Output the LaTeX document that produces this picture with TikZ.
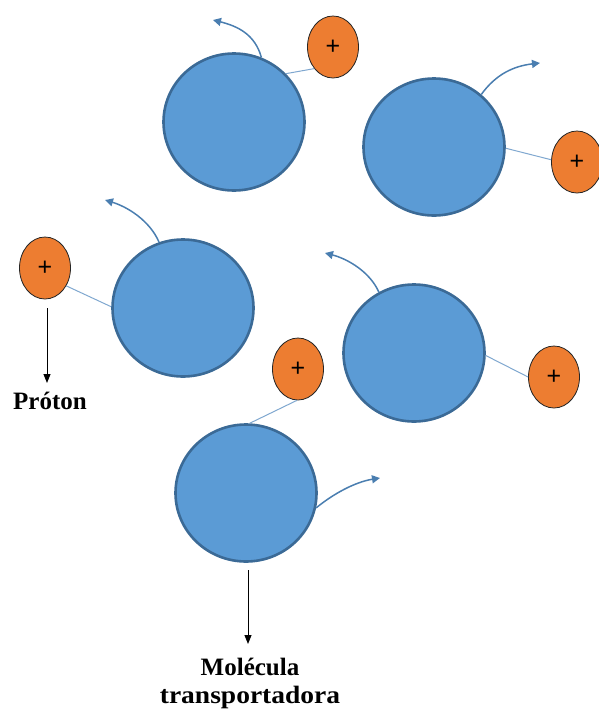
\documentclass[tikz,border=0pt]{standalone}
\usepackage{fontspec}
\setmainfont{Liberation Serif}
\newfontfamily\plusfont{Liberation Sans}
\usetikzlibrary{shapes.geometric,arrows.meta}
\definecolor{cellfill}{HTML}{5B9BD5}
\definecolor{celledge}{HTML}{3B6A96}
\definecolor{protfill}{HTML}{ED7D31}
\definecolor{linkcol}{HTML}{7FA7CF}
\definecolor{curvecol}{HTML}{4A7EB0}
\tikzset{
  carrier/.style={ellipse, draw=celledge, fill=cellfill, line width=2.6pt,
    minimum width=141pt, minimum height=137pt, inner sep=0pt},
  proton/.style={ellipse, draw=black!85, fill=protfill, line width=0.8pt,
    minimum width=51pt, minimum height=62pt, inner sep=0pt,
    font=\plusfont\fontsize{25}{25}\selectfont},
  link/.style={draw=linkcol, line width=1pt},
  spin/.style={draw=curvecol, line width=1.5pt,
    -{Triangle[width=8pt,length=8pt]}},
  pointer/.style={draw=black, line width=1pt,
    -{Triangle[width=7pt,length=9pt]}},
  lab/.style={font=\bfseries\fontsize{25}{28}\selectfont, inner sep=0pt, align=center}
}
\begin{document}
\begin{tikzpicture}[x=1pt,y=-1pt]
\useasboundingbox (0,0) rectangle (599,710);
% carriers
\node[carrier] (c1) at (234,122) {};
\node[carrier] (c2) at (434,147) {};
\node[carrier] (c3) at (183,308) {};
\node[carrier] (c4) at (414,353) {};
\node[carrier] (c5) at (246,493) {};
% protons
\node[proton] (p1) at (333,47) {+};
\node[proton] (p2) at (577,162) {+};
\node[proton] (p3) at (45,268) {+};
\node[proton] (p4) at (554,377) {+};
\node[proton] (p5) at (298,369) {+};
% links
\draw[link] (c1.43) -- (p1.229);
\draw[link] (c2.-1) -- (p2.175);
\draw[link] (c3.179) -- (p3.-40);
\draw[link] (c4.-2) -- (p4.180);
\draw[link] (c5.87) -- (p5.-92);
% tip coordinates
\coordinate (t1) at (213,20);
\coordinate (t2) at (540,63);
\coordinate (t3) at (105,200);
\coordinate (t4) at (325,253);
\coordinate (t5) at (380,478);
% curved arrows
\draw[spin] (c1.67) .. controls (255,34) and (237,26) .. (t1);
\draw[spin] (c2.48) .. controls (496,74) and (514,66) .. (t2);
\draw[spin] (c3.110) .. controls (150,221) and (128,207) .. (t3);
\draw[spin] (c4.120) .. controls (370,272) and (348,259) .. (t4);
\draw[spin] (c5.-12) .. controls (333,494) and (355,482) .. (t5);
% labels
\node[lab, anchor=base] (lp) at (50,409) {Próton};
\node[lab, anchor=base] (lm) at (250,703) {Molécula\\\scalebox{1.1}[1]{transportadora}};
\coordinate (a3) at (47,308);
\coordinate (b3) at (47,383);
\coordinate (a5) at (248,570);
\coordinate (b5) at (248,644);
\draw[pointer] (a3) -- (b3);
\draw[pointer] (a5) -- (b5);
\end{tikzpicture}
\end{document}
